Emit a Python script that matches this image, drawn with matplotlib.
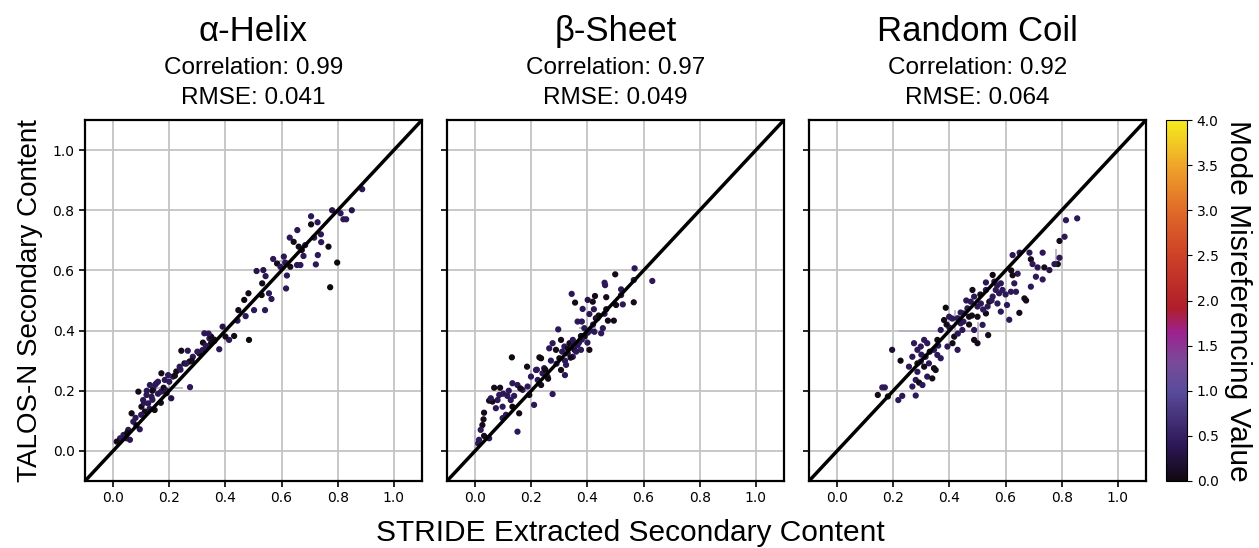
import numpy as np
import matplotlib
matplotlib.use('Agg')
from matplotlib import pyplot as plt
from matplotlib.colors import LinearSegmentedColormap

# (stride, talos, mode misreferencing value)
helix_pts = [
    (0.887, 0.870, 0.4), (0.78, 0.80, 0.3), (0.81, 0.79, 0.4), (0.85, 0.80, 0.3), (0.82, 0.77, 0.4),
    (0.83, 0.77, 0.4), (0.705, 0.78, 0.4), (0.705, 0.753, 0.05), (0.728, 0.76, 0.4), (0.656, 0.734, 0.4),
    (0.629, 0.709, 0.4), (0.643, 0.695, 0.05), (0.716, 0.709, 0.4), (0.74, 0.72, 0.4), (0.741, 0.694, 0.4),
    (0.767, 0.679, 0.0), (0.798, 0.626, 0.0), (0.773, 0.544, 0.0), (0.729, 0.651, 0.4), (0.722, 0.62, 0.4),
    (0.678, 0.648, 0.4), (0.655, 0.618, 0.4), (0.667, 0.618, 0.4), (0.672, 0.668, 0.05), (0.684, 0.684, 0.4),
    (0.661, 0.679, 0.05), (0.608, 0.646, 0.4), (0.613, 0.626, 0.4), (0.631, 0.612, 0.05), (0.619, 0.583, 0.4),
    (0.616, 0.54, 0.4), (0.57, 0.638, 0.4), (0.584, 0.623, 0.05), (0.596, 0.612, 0.4), (0.511, 0.598, 0.3),
    (0.535, 0.601, 0.3), (0.543, 0.581, 0.4), (0.531, 0.557, 0.05), (0.555, 0.524, 0.4), (0.564, 0.505, 0.4),
    (0.529, 0.518, 0.0), (0.502, 0.468, 0.4), (0.541, 0.468, 0.4), (0.482, 0.524, 0.05), (0.467, 0.502, 0.0),
    (0.472, 0.448, 0.4), (0.446, 0.468, 0.05), (0.443, 0.433, 0.4), (0.484, 0.369, 0.0), (0.431, 0.382, 0.05),
    (0.413, 0.369, 0.4), (0.40, 0.38, 0.05), (0.378, 0.338, 0.4), (0.39, 0.413, 0.3), (0.325, 0.391, 0.4),
    (0.343, 0.374, 0.4), (0.349, 0.38, 0.05), (0.36, 0.365, 0.4), (0.349, 0.358, 0.05), (0.331, 0.347, 0.4),
    (0.307, 0.324, 0.05), (0.318, 0.335, 0.4), (0.284, 0.313, 0.4), (0.272, 0.297, 0.05), (0.243, 0.333, 0.05),
    (0.266, 0.333, 0.4), (0.254, 0.291, 0.05), (0.237, 0.28, 0.4), (0.225, 0.264, 0.05), (0.274, 0.212, 0.4),
    (0.213, 0.247, 0.4), (0.196, 0.252, 0.4), (0.172, 0.258, 0.05), (0.184, 0.236, 0.4), (0.154, 0.225, 0.4),
    (0.131, 0.219, 0.4), (0.143, 0.205, 0.4), (0.171, 0.197, 0.4), (0.19, 0.192, 0.05), (0.207, 0.175, 0.3),
    (0.09, 0.197, 0.05), (0.119, 0.186, 0.4), (0.107, 0.169, 0.4), (0.101, 0.147, 0.05), (0.125, 0.158, 0.4),
    (0.148, 0.136, 0.05), (0.137, 0.18, 0.4), (0.113, 0.131, 0.05), (0.066, 0.125, 0.05), (0.072, 0.097, 0.4),
    (0.095, 0.072, 0.4), (0.083, 0.085, 0.05), (0.054, 0.07, 0.4), (0.037, 0.053, 0.4), (0.048, 0.042, 0.4),
    (0.06, 0.037, 0.4), (0.025, 0.042, 0.4), (0.013, 0.031, 0.05), (0.14, 0.17, 0.4), (0.16, 0.19, 0.4),
    (0.12, 0.20, 0.4), (0.15, 0.22, 0.4), (0.18, 0.21, 0.05), (0.11, 0.16, 0.4), (0.13, 0.14, 0.4),
    (0.17, 0.16, 0.05), (0.20, 0.23, 0.4), (0.22, 0.25, 0.05), (0.24, 0.27, 0.4), (0.26, 0.29, 0.4),
    (0.28, 0.30, 0.05), (0.30, 0.33, 0.4), (0.32, 0.36, 0.05), (0.34, 0.39, 0.4), (0.36, 0.37, 0.05),
    (0.33, 0.35, 0.4), (0.08, 0.11, 0.4), (0.05, 0.06, 0.05), (0.10, 0.12, 0.4), (0.19, 0.20, 0.4),
    (0.16, 0.23, 0.4), (0.14, 0.20, 0.05),
]

sheet_pts = [
    (0.568, 0.607, 0.4), (0.565, 0.568, 0.4), (0.631, 0.565, 0.4), (0.499, 0.587, 0.05), (0.461, 0.559, 0.4),
    (0.463, 0.551, 0.4), (0.52, 0.537, 0.4), (0.565, 0.494, 0.05), (0.52, 0.518, 0.4), (0.526, 0.487, 0.4),
    (0.502, 0.485, 0.05), (0.494, 0.433, 0.05), (0.467, 0.511, 0.05), (0.467, 0.471, 0.05), (0.461, 0.456, 0.4),
    (0.473, 0.433, 0.05), (0.455, 0.408, 0.4), (0.427, 0.515, 0.05), (0.419, 0.496, 0.05), (0.401, 0.502, 0.3),
    (0.383, 0.472, 0.4), (0.423, 0.471, 0.4), (0.43, 0.441, 0.05), (0.436, 0.441, 0.4), (0.407, 0.455, 0.4),
    (0.365, 0.43, 0.4), (0.38, 0.43, 0.4), (0.344, 0.522, 0.4), (0.356, 0.493, 0.05), (0.389, 0.408, 0.4),
    (0.377, 0.382, 0.05), (0.401, 0.393, 0.4), (0.425, 0.396, 0.4), (0.449, 0.391, 0.4), (0.296, 0.404, 0.4),
    (0.276, 0.358, 0.4), (0.264, 0.341, 0.4), (0.288, 0.336, 0.05), (0.306, 0.369, 0.05), (0.318, 0.347, 0.4),
    (0.336, 0.358, 0.05), (0.348, 0.369, 0.4), (0.354, 0.336, 0.05), (0.33, 0.324, 0.4), (0.365, 0.352, 0.4),
    (0.377, 0.336, 0.4), (0.407, 0.336, 0.05), (0.348, 0.313, 0.4), (0.30, 0.308, 0.05), (0.324, 0.286, 0.4),
    (0.32, 0.252, 0.4), (0.306, 0.269, 0.05), (0.276, 0.189, 0.4), (0.258, 0.247, 0.4), (0.24, 0.258, 0.4),
    (0.235, 0.308, 0.0), (0.229, 0.311, 0.0), (0.246, 0.275, 0.4), (0.217, 0.269, 0.4), (0.223, 0.236, 0.4),
    (0.235, 0.219, 0.05), (0.185, 0.28, 0.05), (0.199, 0.247, 0.4), (0.21, 0.153, 0.4), (0.187, 0.214, 0.4),
    (0.193, 0.186, 0.05), (0.169, 0.203, 0.4), (0.131, 0.311, 0.0), (0.133, 0.225, 0.4), (0.151, 0.219, 0.4),
    (0.161, 0.208, 0.05), (0.139, 0.183, 0.4), (0.115, 0.183, 0.4), (0.127, 0.169, 0.4), (0.133, 0.147, 0.0),
    (0.157, 0.125, 0.05), (0.151, 0.064, 0.4), (0.11, 0.12, 0.4), (0.098, 0.109, 0.4), (0.086, 0.186, 0.4),
    (0.08, 0.169, 0.4), (0.068, 0.21, 0.05), (0.089, 0.21, 0.05), (0.062, 0.164, 0.05), (0.05, 0.167, 0.05),
    (0.074, 0.142, 0.4), (0.098, 0.147, 0.4), (0.056, 0.175, 0.4), (0.032, 0.127, 0.05), (0.026, 0.086, 0.05),
    (0.03, 0.105, 0.05), (0.02, 0.07, 0.4), (0.032, 0.05, 0.05), (0.05, 0.042, 0.4), (0.014, 0.037, 0.4),
    (0.011, 0.025, 0.4), (0.31, 0.33, 0.4), (0.33, 0.34, 0.05), (0.35, 0.35, 0.4), (0.37, 0.36, 0.4),
    (0.39, 0.38, 0.05), (0.41, 0.40, 0.4), (0.38, 0.37, 0.4), (0.36, 0.33, 0.4), (0.34, 0.31, 0.05),
    (0.29, 0.29, 0.4), (0.27, 0.30, 0.4), (0.25, 0.27, 0.05), (0.42, 0.42, 0.4), (0.44, 0.45, 0.05),
    (0.40, 0.36, 0.4), (0.32, 0.30, 0.4), (0.26, 0.24, 0.05), (0.22, 0.27, 0.4), (0.10, 0.19, 0.4),
    (0.12, 0.20, 0.4),
]

coil_pts = [
    (0.855, 0.773, 0.4), (0.815, 0.767, 0.4), (0.81, 0.712, 0.4), (0.792, 0.698, 0.05), (0.792, 0.642, 0.4),
    (0.786, 0.621, 0.05), (0.774, 0.621, 0.4), (0.738, 0.61, 0.05), (0.756, 0.601, 0.3), (0.732, 0.659, 0.4),
    (0.714, 0.61, 0.4), (0.732, 0.57, 0.4), (0.708, 0.579, 0.4), (0.69, 0.637, 0.05), (0.696, 0.621, 0.4),
    (0.69, 0.546, 0.4), (0.685, 0.659, 0.4), (0.65, 0.659, 0.4), (0.625, 0.651, 0.4), (0.667, 0.507, 0.05),
    (0.673, 0.50, 0.05), (0.649, 0.459, 0.05), (0.637, 0.529, 0.4), (0.619, 0.529, 0.4), (0.643, 0.589, 0.4),
    (0.625, 0.584, 0.05), (0.631, 0.557, 0.4), (0.613, 0.436, 0.4), (0.605, 0.485, 0.4), (0.589, 0.535, 0.4),
    (0.583, 0.557, 0.4), (0.577, 0.524, 0.4), (0.571, 0.49, 0.4), (0.583, 0.463, 0.4), (0.554, 0.585, 0.0),
    (0.56, 0.563, 0.4), (0.565, 0.535, 0.4), (0.554, 0.513, 0.4), (0.542, 0.496, 0.05), (0.536, 0.48, 0.4),
    (0.53, 0.535, 0.4), (0.53, 0.457, 0.05), (0.512, 0.49, 0.4), (0.50, 0.446, 0.05), (0.538, 0.385, 0.05),
    (0.518, 0.419, 0.4), (0.488, 0.402, 0.4), (0.488, 0.369, 0.05), (0.50, 0.358, 0.05), (0.482, 0.535, 0.05),
    (0.488, 0.513, 0.4), (0.476, 0.496, 0.4), (0.464, 0.474, 0.4), (0.47, 0.446, 0.05), (0.452, 0.457, 0.4),
    (0.44, 0.424, 0.4), (0.429, 0.441, 0.4), (0.446, 0.402, 0.4), (0.417, 0.38, 0.05), (0.429, 0.336, 0.4),
    (0.411, 0.358, 0.05), (0.393, 0.347, 0.4), (0.387, 0.476, 0.0), (0.381, 0.435, 0.05), (0.399, 0.446, 0.4),
    (0.369, 0.402, 0.4), (0.357, 0.369, 0.05), (0.345, 0.336, 0.4), (0.357, 0.319, 0.4), (0.369, 0.308, 0.4),
    (0.345, 0.275, 0.05), (0.351, 0.269, 0.05), (0.321, 0.358, 0.4), (0.31, 0.369, 0.4), (0.298, 0.347, 0.4),
    (0.286, 0.336, 0.4), (0.274, 0.358, 0.4), (0.268, 0.313, 0.4), (0.286, 0.291, 0.05), (0.298, 0.297, 0.4),
    (0.315, 0.313, 0.4), (0.31, 0.28, 0.05), (0.327, 0.291, 0.4), (0.286, 0.263, 0.4), (0.321, 0.247, 0.4),
    (0.339, 0.241, 0.05), (0.28, 0.236, 0.4), (0.292, 0.227, 0.05), (0.268, 0.214, 0.4), (0.304, 0.219, 0.4),
    (0.28, 0.184, 0.4), (0.256, 0.28, 0.4), (0.226, 0.30, 0.0), (0.196, 0.336, 0.2), (0.232, 0.183, 0.4),
    (0.218, 0.169, 0.4), (0.181, 0.181, 0.05), (0.161, 0.211, 0.4), (0.17, 0.211, 0.4), (0.145, 0.186, 0.05),
    (0.45, 0.43, 0.4), (0.47, 0.42, 0.05), (0.50, 0.48, 0.4), (0.52, 0.47, 0.4), (0.55, 0.50, 0.4),
    (0.57, 0.55, 0.4), (0.48, 0.45, 0.05), (0.43, 0.39, 0.4), (0.40, 0.41, 0.4), (0.36, 0.35, 0.4),
    (0.33, 0.33, 0.05), (0.30, 0.32, 0.4), (0.46, 0.50, 0.4), (0.51, 0.52, 0.05), (0.53, 0.56, 0.4),
    (0.60, 0.52, 0.4), (0.62, 0.60, 0.05), (0.44, 0.46, 0.4), (0.41, 0.44, 0.4), (0.39, 0.42, 0.05),
]

# (x, y, xerr, yerr)
helix_err = [(0.0, 0.045, 0.0, 0.025), (0.2, 0.21, 0.05, 0.04), (0.4, 0.39, 0.0, 0.035),
             (0.61, 0.63, 0.02, 0.02), (0.80, 0.80, 0.03, 0.0)]
sheet_err = [(0.0, 0.04, 0.0, 0.03), (0.2, 0.23, 0.0, 0.04), (0.4, 0.41, 0.03, 0.03),
             (0.17, 0.20, 0.04, 0.0)]
coil_err = [(0.38, 0.40, 0.16, 0.0), (0.42, 0.42, 0.0, 0.05), (0.50, 0.40, 0.0, 0.03),
            (0.78, 0.65, 0.0, 0.02)]

titles = ['\u03b1-Helix', '\u03b2-Sheet', 'Random Coil']
correlations = [0.99, 0.97, 0.92]
rmses = [0.041, 0.049, 0.064]

# black -> blue-purple -> magenta -> red -> orange -> yellow
cmap = LinearSegmentedColormap.from_list('misref', [
    (0.0, '#100810'), (0.1, '#2e1858'), (0.25, '#5a4c9c'), (0.33, '#7a4a98'),
    (0.41, '#9c2290'), (0.48, '#b01e2a'), (0.62, '#cc4028'), (0.75, '#e06a28'),
    (0.87, '#eea22a'), (1.0, '#f5ec1e')])

fig = plt.figure(figsize=(12.59, 5.48), dpi=100)
lefts = [85 / 1259, 447 / 1259, 809 / 1259]
bottom, width, height = 67 / 548, 337 / 1259, 361 / 548

font = 'Liberation Sans'
axes = []
for i, (pts, errs) in enumerate(zip([helix_pts, sheet_pts, coil_pts], [helix_err, sheet_err, coil_err])):
    ax = fig.add_axes([lefts[i], bottom, width, height])
    axes.append(ax)
    ax.set_axisbelow(True)
    ax.grid(True, color='#c4c4c4', lw=1.3)
    ex, ey, exe, eye = np.array(errs).T
    ax.errorbar(ex, ey, xerr=exe, yerr=eye, fmt='none', ecolor='#b8aec0', elinewidth=1.2, zorder=2)
    x, y, c = np.array(pts).T
    sc = ax.scatter(x, y, c=c, cmap=cmap, vmin=0, vmax=4, s=12, zorder=3)
    ax.plot([-0.1, 1.1], [-0.1, 1.1], color='black', lw=2.5, zorder=4)
    ax.set_xlim(-0.1, 1.1)
    ax.set_ylim(-0.1, 1.1)
    ax.set_xticks(np.arange(0, 1.01, 0.2))
    ax.set_yticks(np.arange(0, 1.01, 0.2))
    if i > 0:
        ax.set_yticklabels([])
    ax.tick_params(labelsize=10, length=4, width=1.2)
    for sp in ax.spines.values():
        sp.set_linewidth(1.6)
    ax.text(0.5, 1.244, titles[i], transform=ax.transAxes, ha='center', va='center',
            fontsize=25, family=font)
    ax.text(0.5, 1.144, f'Correlation: {correlations[i]:.2f}', transform=ax.transAxes,
            ha='center', va='center', fontsize=17.5, family=font)
    ax.text(0.5, 1.061, f'RMSE: {rmses[i]:.3f}', transform=ax.transAxes,
            ha='center', va='center', fontsize=17.5, family=font)

axes[0].set_ylabel('TALOS-N Secondary Content', fontsize=20, family=font, labelpad=7)
fig.text(630 / 1259, 1 - 533 / 548, 'STRIDE Extracted Secondary Content', ha='center', va='center',
         fontsize=21.5, family=font)

cax = fig.add_axes([1166 / 1259, bottom, 21 / 1259, height])
cb = fig.colorbar(sc, cax=cax, ticks=np.arange(0, 4.01, 0.5))
cb.ax.tick_params(labelsize=10)
cb.set_label('Mode Misreferencing Value', rotation=270, fontsize=21.5, family=font, labelpad=24)
cb.outline.set_linewidth(0.8)

plt.savefig('out.png', dpi=100)
